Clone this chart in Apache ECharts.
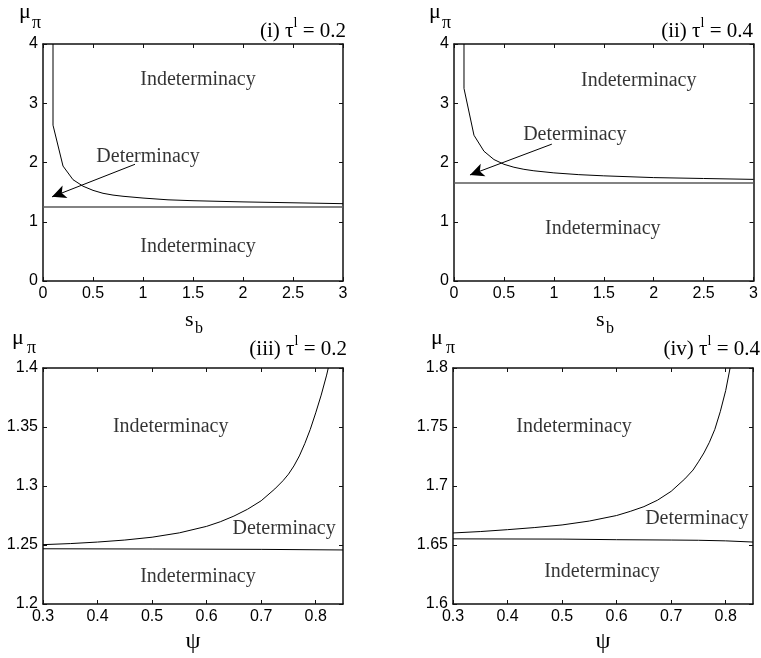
<!DOCTYPE html>
<html><head><meta charset="utf-8">
<script src="https://cdn.jsdelivr.net/npm/echarts@6/dist/echarts.min.js"></script>
<style>html,body{margin:0;padding:0;background:#fff}#c{width:761px;height:658px}</style>
</head><body><div id="c"></div>
<script>
// ---- data ----
// (i) tau^l = 0.2, mu_pi vs s_b
const curveI = [[0.1,4],[0.1,2.63],[0.2,1.94],[0.3,1.71],[0.4,1.60],[0.5,1.53],[0.6,1.48],[0.7,1.45],[0.8,1.43],[1.0,1.40],[1.25,1.37],[1.5,1.355],[2.0,1.335],[2.5,1.32],[3.0,1.305]];
const flatI = [[0,1.25],[3,1.25]];
const arrowI = [[0.92,1.97],[0.09,1.42]];
const textI = [['Indeterminacy',1.55,3.40],['Indeterminacy',1.55,0.58],['Determinacy',1.05,2.10]];
// (ii) tau^l = 0.4, mu_pi vs s_b
const curveII = [[0.1,4],[0.1,3.25],[0.2,2.46],[0.3,2.19],[0.4,2.05],[0.5,1.97],[0.6,1.92],[0.7,1.885],[0.8,1.86],[1.0,1.825],[1.25,1.795],[1.5,1.775],[2.0,1.745],[2.5,1.73],[3.0,1.715]];
const flatII = [[0,1.655],[3,1.655]];
const arrowII = [[0.98,2.31],[0.16,1.79]];
const textII = [['Indeterminacy',1.85,3.38],['Indeterminacy',1.49,0.89],['Determinacy',1.21,2.46]];
// (iii) tau^l = 0.2, mu_pi vs psi
const curveIII = [[0.3,1.2503],[0.35,1.2512],[0.4,1.2525],[0.45,1.2542],[0.5,1.2566],[0.55,1.2603],[0.6,1.2658],[0.625,1.2697],[0.65,1.2745],[0.675,1.2803],[0.7,1.2875],[0.725,1.2975],[0.74,1.3045],[0.75,1.310],[0.76,1.317],[0.77,1.3255],[0.78,1.336],[0.79,1.348],[0.8,1.362],[0.81,1.377],[0.82,1.394],[0.823,1.4]];
const flatIII = [[0.3,1.2468],[0.5,1.2466],[0.7,1.2463],[0.85,1.2458]];
const textIII = [['Indeterminacy',0.534,1.35],['Indeterminacy',0.584,1.2234],['Determinacy',0.742,1.2636]];
// (iv) tau^l = 0.4, mu_pi vs psi
const curveIV = [[0.3,1.6602],[0.35,1.6614],[0.4,1.663],[0.45,1.6648],[0.5,1.667],[0.55,1.6703],[0.6,1.675],[0.625,1.6785],[0.65,1.6825],[0.675,1.688],[0.7,1.6955],[0.725,1.706],[0.74,1.7135],[0.75,1.7205],[0.76,1.728],[0.77,1.737],[0.78,1.748],[0.79,1.763],[0.8,1.781],[0.808,1.8]];
const flatIV = [[0.3,1.6552],[0.5,1.655],[0.6,1.6545],[0.7,1.6542],[0.75,1.654],[0.8,1.6535],[0.85,1.6525]];
const textIV = [['Indeterminacy',0.522,1.75],['Indeterminacy',0.573,1.6277],['Determinacy',0.747,1.6723]];
// axis ranges [min,max,interval]
const xRangeTop = [0,3,0.5], yRangeI = [0,4,1], yRangeII = [0,4,1];
const xRangeBot = [0.3,0.85,0.1], yRangeIII = [1.2,1.4,0.05], yRangeIV = [1.6,1.8,0.05];
const titles = [['(i) τ','l',' = 0.2'],['(ii) τ','l',' = 0.4'],['(iii) τ','l',' = 0.2'],['(iv) τ','l',' = 0.4']];

const SANS = '"Liberation Sans", Arial, sans-serif';
const SERIF = '"Liberation Serif", "Times New Roman", serif';

const panels = [
  {grid:{left:43,top:44,width:300,height:237}, x:xRangeTop, y:yRangeI, curve:curveI, flat:flatI, arrow:arrowI, text:textI, flatColor:'#5a5a5a', flatWidth:1.6},
  {grid:{left:454,top:44,width:300,height:237}, x:xRangeTop, y:yRangeII, curve:curveII, flat:flatII, arrow:arrowII, text:textII, flatColor:'#5a5a5a', flatWidth:1.6},
  {grid:{left:43,top:368,width:300,height:236}, x:xRangeBot, y:yRangeIII, curve:curveIII, flat:flatIII, arrow:null, text:textIII, flatColor:'#000', flatWidth:1},
  {grid:{left:453,top:368,width:300,height:236}, x:xRangeBot, y:yRangeIV, curve:curveIV, flat:flatIV, arrow:null, text:textIV, flatColor:'#000', flatWidth:1}
];

const grids = [], xAxes = [], yAxes = [], series = [];
const axisLine = {show:true, onZero:false, lineStyle:{color:'#111', width:1.5}};
const tick = {show:true, inside:true, length:4, lineStyle:{color:'#111', width:1}};
panels.forEach((p, g) => {
  grids.push(Object.assign({containLabel:false}, p.grid));
  const xb = {type:'value', gridIndex:g, position:'bottom', min:p.x[0], max:p.x[1], interval:p.x[2],
    axisLine, axisTick:tick, splitLine:{show:false},
    axisLabel:{color:'#000', fontFamily:SANS, fontSize:16, margin:5, showMaxLabel: g<2}};
  const xt = {type:'value', gridIndex:g, position:'top', min:p.x[0], max:p.x[1], interval:p.x[2],
    axisLine, axisTick:tick, splitLine:{show:false}, axisLabel:{show:false}};
  const yl = {type:'value', gridIndex:g, position:'left', min:p.y[0], max:p.y[1], interval:p.y[2],
    axisLine, axisTick:tick, splitLine:{show:false},
    axisLabel:{color:'#000', fontFamily:SANS, fontSize:16, margin:5}};
  const yr = {type:'value', gridIndex:g, position:'right', min:p.y[0], max:p.y[1], interval:p.y[2],
    axisLine, axisTick:tick, splitLine:{show:false}, axisLabel:{show:false}};
  xAxes.push(xb, xt); yAxes.push(yl, yr);
  const xi = 2*g, yi = 2*g;
  const curve = {type:'line', xAxisIndex:xi, yAxisIndex:yi, data:p.curve, showSymbol:false, smooth:false,
    lineStyle:{color:'#000', width:1}, silent:true, animation:false, clip:true};
  if (p.arrow) {
    curve.markLine = {silent:true, animation:false, symbol:['none','arrow'], symbolSize:[10,14],
      lineStyle:{color:'#000', width:1, type:'solid'}, label:{show:false},
      data:[[{coord:p.arrow[0]},{coord:p.arrow[1]}]]};
  }
  series.push(curve);
  series.push({type:'line', xAxisIndex:xi, yAxisIndex:yi, data:p.flat, showSymbol:false,
    lineStyle:{color:p.flatColor, width:p.flatWidth}, silent:true, animation:false});
  series.push({type:'scatter', xAxisIndex:xi, yAxisIndex:yi, symbolSize:0, silent:true, animation:false,
    data:p.text.map(t => [t[1], t[2], t[0]]),
    label:{show:true, position:'inside', formatter:q => q.data[2], color:'#000', fontFamily:SERIF, fontSize:20,
      textBorderWidth:0, textShadowBlur:0}});
});

// titles and axis names (decorative text)
const graphic = [];
const titlePos = [[346,42],[753,42],[347,360],[760,360]];
titles.forEach((t, i) => {
  graphic.push({type:'text', x:titlePos[i][0], y:titlePos[i][1], silent:true,
    style:{text:'{a|'+t[0]+'}{s|'+t[1]+'}{a|'+t[2]+'}', align:'right', verticalAlign:'bottom',
      rich:{a:{fontFamily:SERIF, fontSize:21, lineHeight:26, verticalAlign:'bottom', fill:'#000'},
            s:{fontFamily:SERIF, fontSize:14, lineHeight:26, verticalAlign:'top', fill:'#000'}}}});
});
const muPos = [[19,1,32,14],[429,1,442,14],[12,327,27,339],[431,327,446,339]];
muPos.forEach(m => {
  graphic.push({type:'text', x:m[0], y:m[1], silent:true, style:{text:'μ', font:'22px '+SERIF, fill:'#000', verticalAlign:'top'}});
  graphic.push({type:'text', x:m[2], y:m[3], silent:true, style:{text:'π', font:'18px '+SERIF, fill:'#000', verticalAlign:'top'}});
});
const sbPos = [[185,309,195,321],[596,309,606,321]];
sbPos.forEach(s => {
  graphic.push({type:'text', x:s[0], y:s[1], silent:true, style:{text:'s', font:'22px '+SERIF, fill:'#000', verticalAlign:'top'}});
  graphic.push({type:'text', x:s[2], y:s[3], silent:true, style:{text:'b', font:'16px '+SERIF, fill:'#000', verticalAlign:'top'}});
});
[[193,630],[603,630]].forEach(s => {
  graphic.push({type:'text', x:s[0], y:s[1], silent:true, style:{text:'ψ', font:'24px '+SERIF, fill:'#000', align:'center', verticalAlign:'top'}});
});

const chart = echarts.init(document.getElementById('c'), null, {renderer:'canvas'});
chart.setOption({backgroundColor:'#fff', animation:false, grid:grids, xAxis:xAxes, yAxis:yAxes, series, graphic});
</script></body></html>
